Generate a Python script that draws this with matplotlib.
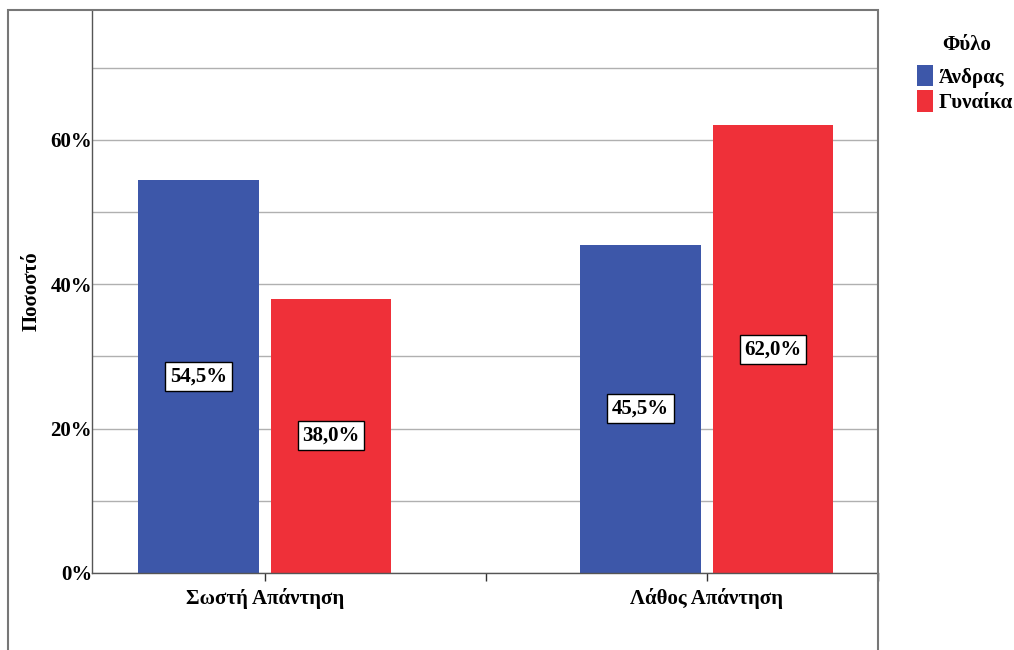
import matplotlib
matplotlib.use('Agg')
import matplotlib.pyplot as plt
from matplotlib.patches import Rectangle, Patch
from matplotlib.ticker import FuncFormatter
import numpy as np

# Δεδομένα
categories = ['Σωστή Απάντηση', 'Λάθος Απάντηση']
series_names = ['Άνδρας', 'Γυναίκα']
andras = [54.5, 45.5]
gynaika = [38.0, 62.0]

colors = ['#3d57a9', '#ef3039']

plt.rcParams['font.family'] = ['Liberation Serif', 'DejaVu Serif']
plt.rcParams['font.weight'] = 'bold'

W, H = 1014, 650
fig = plt.figure(figsize=(W / 100, H / 100), dpi=100)

# plot area in pixels
x0, x1, y0, y1 = 92, 878, 10, 573
ax = fig.add_axes([x0 / W, 1 - y1 / H, (x1 - x0) / W, (y1 - y0) / H])

x = np.arange(len(categories))
bw = 0.272
off = 0.15
for i, (vals, name) in enumerate(zip([andras, gynaika], series_names)):
    pos = x + (-off if i == 0 else off)
    ax.bar(pos, vals, width=bw, color=colors[i], zorder=2)
    for p, v in zip(pos, vals):
        ax.text(p, v / 2, f'{v:.1f}%'.replace('.', ','), ha='center', va='center',
                fontsize=15, fontweight='bold', zorder=3,
                bbox=dict(boxstyle='square,pad=0.22', fc='white', ec='black', lw=1))

ax.set_xlim(-0.391, 1.387)
ax.set_ylim(0, 78)
ax.set_yticks([0, 20, 40, 60])
ax.yaxis.set_major_formatter(FuncFormatter(lambda v, _: f'{v:.0f}%'))
ax.set_yticks(np.arange(10, 80, 10), minor=True)
ax.grid(True, axis='y', which='both', color='#b0b0b0', lw=1, zorder=0)
ax.tick_params(axis='y', which='both', length=0, pad=0, labelsize=15)

ax.set_xticks([0, 0.5, 1, 1.387])
ax.set_xticklabels([categories[0], '', categories[1], ''])
ax.tick_params(axis='x', length=6, width=1, color='#333333', labelsize=15, pad=5)

for s in ['left', 'bottom']:
    ax.spines[s].set_color('#555555')
    ax.spines[s].set_linewidth(1)
for s in ['top', 'right']:
    ax.spines[s].set_visible(False)

ax.set_ylabel('Ποσοστό', fontsize=15, fontweight='bold', labelpad=6)

# outer frame
fig.add_artist(Rectangle((8 / W, -0.05), (878 - 8) / W, 1.05 - 10 / H,
                         transform=fig.transFigure, fill=False,
                         ec='#777777', lw=1.5, clip_on=False))

# legend
fig.text(967 / W, 1 - 45 / H, 'Φύλο', ha='center', va='center',
         fontsize=15, fontweight='bold')
handles = [Patch(facecolor=c, edgecolor='none') for c in colors]
leg = fig.legend(handles, series_names, loc='upper left',
                 bbox_to_anchor=(917 / W, 1 - 65 / H), frameon=False,
                 fontsize=15, handlelength=0.75,
                 handleheight=1.2, handletextpad=0.3, labelspacing=0.12,
                 borderpad=0, borderaxespad=0)

fig.savefig('out.png', dpi=100)
